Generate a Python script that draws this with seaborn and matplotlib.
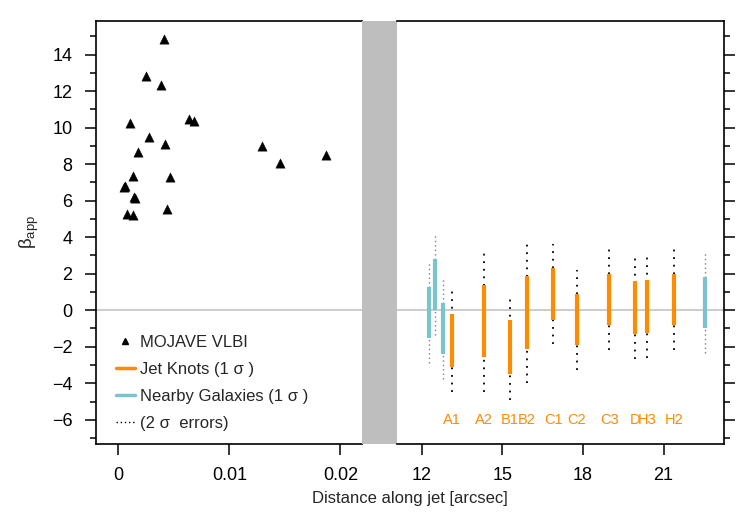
import numpy as np
import pandas as pd
import matplotlib
matplotlib.use("Agg")
import matplotlib.pyplot as plt
from matplotlib.lines import Line2D
import seaborn as sns

# MOJAVE VLBI points (distance in arcsec, beta_app)
vlbi_dist = [0.00414, 0.00252, 0.00381, 0.00105, 0.00637, 0.00685, 0.00276,
             0.00417, 0.00174, 0.01297, 0.01453, 0.01868, 0.00129, 0.00462,
             0.00048, 0.00063, 0.00141, 0.00147, 0.00435, 0.00081, 0.00135]
vlbi_beta = [14.86, 12.83, 12.34, 10.23, 10.50, 10.38, 9.50,
             9.08, 8.68, 8.99, 8.04, 8.50, 7.35, 7.31,
             6.76, 6.82, 6.21, 6.16, 5.52, 5.26, 5.23]

# HST jet knots (1 sigma and 2 sigma ranges)
knot_names = ["A1", "A2", "B1", "B2", "C1", "C2", "C3", "D", "H3", "H2"]
knot_dist = [13.12, 14.31, 15.29, 15.91, 16.90, 17.77, 18.98, 19.94, 20.40, 21.39]
knot_lo1 = [-3.11, -2.56, -3.47, -2.10, -0.51, -1.92, -0.82, -1.28, -1.24, -0.82]
knot_hi1 = [-0.22, 1.37, -0.55, 1.86, 2.32, 0.88, 2.01, 1.61, 1.68, 2.01]
knot_lo2 = [-4.48, -4.48, -4.90, -3.98, -1.83, -3.25, -2.16, -2.65, -2.61, -2.16]
knot_hi2 = [1.15, 3.29, 0.91, 3.80, 3.65, 2.23, 3.34, 3.05, 3.11, 3.34]

# nearby galaxies
gal_dist = [12.27, 12.50, 12.80, 22.54]
gal_lo1 = [-1.52, 0.00, -2.41, -0.97]
gal_hi1 = [1.28, 2.83, 0.40, 1.83]
gal_lo2 = [-2.89, -1.33, -3.74, -2.34]
gal_hi2 = [2.65, 4.20, 1.74, 3.20]

ORANGE = "#FF8C00"
CYAN = "#7AC5CD"
BAND = "#BEBEBE"

sns.set_theme(style="ticks")
plt.rcParams["font.family"] = ["Liberation Sans", "DejaVu Sans"]
plt.rcParams["axes.linewidth"] = 1.2

fig = plt.figure(figsize=(7.41, 5.29), dpi=100)
W, H = 741, 529
top, bot = 20.5, 443.5
def box(x0, x1):
    return [x0 / W, (H - bot) / H, (x1 - x0) / W, (bot - top) / H]

axL = fig.add_axes(box(96, 362))
axB = fig.add_axes(box(362, 397))
axR = fig.add_axes(box(397, 724))

ylim = (-7.3, 15.87)

# left panel: VLBI
vlbi = pd.DataFrame({"dist": vlbi_dist, "beta": vlbi_beta})
sns.scatterplot(data=vlbi, x="dist", y="beta", marker="^", color="black",
                s=45, edgecolor="black", linewidth=0.3, ax=axL, zorder=3)
axL.axhline(0, color=BAND, lw=1.1, zorder=1)
axL.set_xlim(-0.00201, 0.02195)
axL.set_ylim(*ylim)
axL.set_xticks([0, 0.01, 0.02])
axL.set_xticklabels(["0", "0.01", "0.02"])
axL.set_yticks(np.arange(-6, 15, 2))
axL.set_yticks(np.arange(-7, 16, 2), minor=True)
axL.spines["right"].set_visible(False)
axL.set_xlabel("")
axL.set_ylabel(r"$\mathregular{\beta_{app}}$", fontsize=13.5, labelpad=8)

# band
axB.set_facecolor(BAND)
for s in axB.spines.values():
    s.set_visible(False)
axB.set_xticks([])
axB.set_yticks([])

# right panel: HST knots
axR.axhline(0, color=BAND, lw=1.1, zorder=1)
axR.vlines(gal_dist, gal_lo2, gal_hi2, colors="#808080", lw=1.0,
           linestyles=(0, (1, 2.2)), zorder=2)
axR.vlines(knot_dist, knot_lo2, knot_hi2, colors="black", lw=1.3,
           linestyles=(0, (1, 3.2)), zorder=2)
axR.vlines(gal_dist, gal_lo1, gal_hi1, colors=CYAN, lw=3, zorder=3)
axR.vlines(knot_dist, knot_lo1, knot_hi1, colors=ORANGE, lw=3, zorder=3)
for name, x in zip(knot_names, knot_dist):
    axR.text(x, -6.0, name, color=ORANGE, ha="center", va="center", fontsize=10.5)
axR.set_xlim(11.08, 23.25)
axR.set_ylim(*ylim)
axR.set_xticks([12, 15, 18, 21])
axR.spines["left"].set_visible(False)
axR.yaxis.tick_right()
axR.set_yticks(np.arange(-6, 15, 2))
axR.set_yticks(np.arange(-7, 16, 2), minor=True)
axR.tick_params(axis="y", labelright=False)

for ax in (axL, axR):
    ax.tick_params(axis="both", which="major", length=8, width=1.1,
                   labelsize=13, color="black", labelcolor="black", pad=9)
    ax.tick_params(axis="y", which="minor", length=4.5, width=1.1, color="black")
    for s in ax.spines.values():
        s.set_color("black")

fig.text(410 / W, 1 - 498 / H, "Distance along jet [arcsec]", ha="center",
         va="center", fontsize=12)

handles = [
    Line2D([], [], marker="^", color="black", ls="none", markersize=5),
    Line2D([], [], color=ORANGE, lw=2.5),
    Line2D([], [], color=CYAN, lw=2.5),
    Line2D([], [], color="black", lw=1, ls=(0, (1, 2))),
]
labels = ["MOJAVE VLBI", "Jet Knots (1 \u03c3 )", "Nearby Galaxies (1 \u03c3 )",
          "(2 \u03c3  errors)"]
axL.legend(handles, labels, loc="lower left", bbox_to_anchor=(0.02, -0.005),
           frameon=False, fontsize=12, handlelength=1.1, handletextpad=0.35,
           labelspacing=0.72)

fig.savefig("out.png", dpi=100)
